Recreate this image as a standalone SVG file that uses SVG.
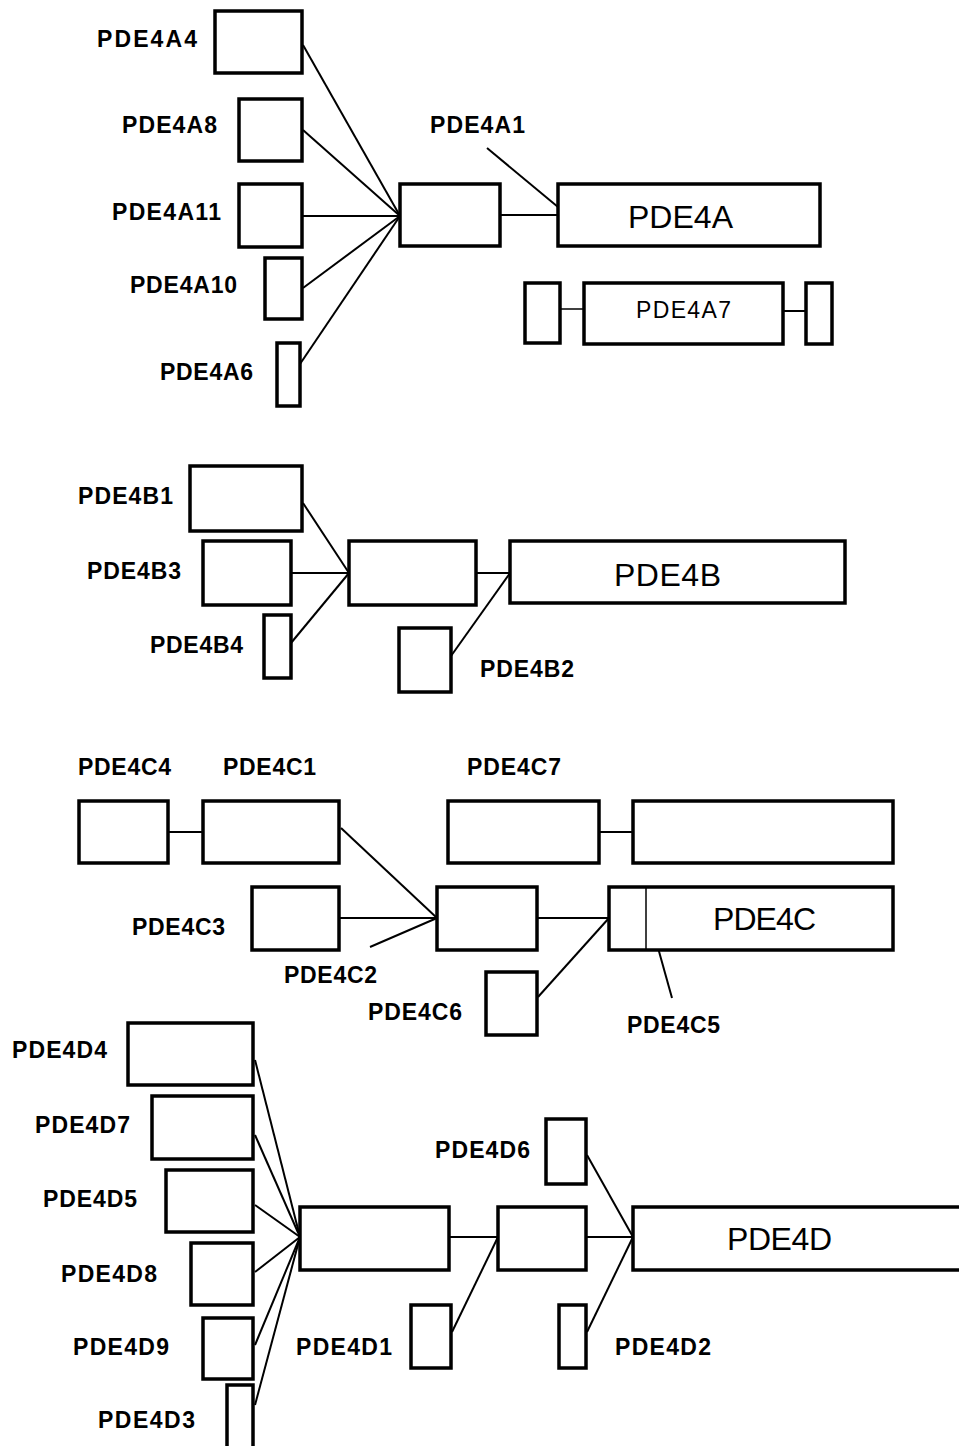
<svg xmlns="http://www.w3.org/2000/svg" width="959" height="1446" viewBox="0 0 959 1446">
<style>
rect{fill:#fff;stroke:#000;stroke-width:3.5}
.c line{stroke:#000;stroke-width:2}
.c .thin{stroke-width:1.5}
text{font-family:"Liberation Sans",Arial,sans-serif;fill:#000}
.l{font-size:23px;font-weight:bold}
.b{font-size:32px}
.m{font-size:23px}
</style>
<rect width="959" height="1446" style="fill:#fff;stroke:none"/>
<g class="c" id="connectors">
<line x1="303" y1="45" x2="400" y2="216"/>
<line x1="303" y1="130" x2="400" y2="216"/>
<line x1="302" y1="216" x2="400" y2="216"/>
<line x1="303" y1="288" x2="400" y2="216"/>
<line x1="300" y1="364" x2="400" y2="216"/>
<line x1="500" y1="215" x2="558" y2="215"/>
<line x1="487" y1="148" x2="558" y2="207"/>
<line class="thin" x1="560" y1="309" x2="584" y2="309"/>
<line x1="783" y1="311" x2="806" y2="311"/>
<line x1="303" y1="503" x2="349" y2="573"/>
<line x1="291" y1="573" x2="349" y2="573"/>
<line x1="291" y1="643" x2="349" y2="573"/>
<line x1="476" y1="573" x2="510" y2="573"/>
<line x1="451" y1="656" x2="510" y2="573"/>
<line x1="168" y1="832" x2="203" y2="832"/>
<line x1="599" y1="832" x2="633" y2="832"/>
<line x1="341" y1="828" x2="437" y2="918"/>
<line x1="339" y1="918" x2="437" y2="918"/>
<line x1="370" y1="947" x2="437" y2="918"/>
<line x1="537" y1="918" x2="609" y2="918"/>
<line x1="538" y1="997" x2="609" y2="918"/>
<line x1="648" y1="912" x2="672" y2="998"/>
<line x1="255" y1="1060" x2="300" y2="1237"/>
<line x1="255" y1="1135" x2="300" y2="1237"/>
<line x1="255" y1="1205" x2="300" y2="1237"/>
<line x1="255" y1="1272" x2="300" y2="1237"/>
<line x1="255" y1="1345" x2="300" y2="1237"/>
<line x1="255" y1="1405" x2="300" y2="1237"/>
<line x1="449" y1="1237" x2="498" y2="1237"/>
<line x1="586" y1="1237" x2="633" y2="1237"/>
<line x1="452" y1="1332" x2="498" y2="1237"/>
<line x1="587" y1="1155" x2="633" y2="1237"/>
<line x1="587" y1="1332" x2="633" y2="1237"/>
</g>
<g id="PDE4A4"><rect x="215" y="11" width="87" height="62"/><text class="l" x="97" y="47" textLength="100">PDE4A4</text></g>
<g id="PDE4A8"><rect x="239" y="99" width="63" height="62"/><text class="l" x="122" y="133" textLength="95">PDE4A8</text></g>
<g id="PDE4A11"><rect x="239" y="184" width="63" height="63"/><text class="l" x="112" y="220" textLength="109">PDE4A11</text></g>
<g id="PDE4A10"><rect x="265" y="258" width="37" height="61"/><text class="l" x="130" y="293" textLength="107">PDE4A10</text></g>
<g id="PDE4A6"><rect x="277" y="343" width="23" height="63"/><text class="l" x="160" y="380" textLength="93">PDE4A6</text></g>
<g id="A-junction"><rect x="400" y="184" width="100" height="62"/></g>
<g id="PDE4A"><rect x="558" y="184" width="262" height="62"/><text class="b" x="628" y="228" textLength="105">PDE4A</text></g>
<g id="PDE4A1"><text class="l" x="430" y="133" textLength="95">PDE4A1</text></g>
<g id="PDE4A7-left"><rect x="525" y="283" width="35" height="60"/></g>
<g id="PDE4A7"><rect x="584" y="283" width="199" height="61"/><text class="m" x="636" y="318" textLength="95">PDE4A7</text></g>
<g id="PDE4A7-right"><rect x="806" y="283" width="26" height="61"/></g>
<g id="PDE4B1"><rect x="190" y="466" width="112" height="65"/><text class="l" x="78" y="504" textLength="95">PDE4B1</text></g>
<g id="PDE4B3"><rect x="203" y="541" width="88" height="64"/><text class="l" x="87" y="579" textLength="94">PDE4B3</text></g>
<g id="PDE4B4"><rect x="264" y="615" width="27" height="63"/><text class="l" x="150" y="653" textLength="93">PDE4B4</text></g>
<g id="B-junction"><rect x="349" y="541" width="127" height="64"/></g>
<g id="PDE4B"><rect x="510" y="541" width="335" height="62"/><text class="b" x="614" y="586" textLength="107">PDE4B</text></g>
<g id="PDE4B2"><rect x="399" y="628" width="52" height="64"/><text class="l" x="480" y="677" textLength="94">PDE4B2</text></g>
<g id="PDE4C4"><rect x="79" y="801" width="89" height="62"/><text class="l" x="78" y="775" textLength="93">PDE4C4</text></g>
<g id="PDE4C1"><rect x="203" y="801" width="136" height="62"/><text class="l" x="223" y="775" textLength="93">PDE4C1</text></g>
<g id="PDE4C7"><rect x="448" y="801" width="151" height="62"/><text class="l" x="467" y="775" textLength="94">PDE4C7</text></g>
<g id="PDE4C7-right"><rect x="633" y="801" width="260" height="62"/></g>
<g id="PDE4C3"><rect x="252" y="887" width="87" height="63"/><text class="l" x="132" y="935" textLength="93">PDE4C3</text></g>
<g id="C-junction"><rect x="437" y="887" width="100" height="63"/></g>
<g id="PDE4C"><rect x="609" y="887" width="284" height="63"/><line x1="646" y1="887" x2="646" y2="949" style="stroke:#000;stroke-width:1.5"/><text class="b" x="713" y="930" textLength="103">PDE4C</text></g>
<g id="PDE4C2"><text class="l" x="284" y="983" textLength="93">PDE4C2</text></g>
<g id="PDE4C6"><rect x="486" y="972" width="51" height="63"/><text class="l" x="368" y="1020" textLength="94">PDE4C6</text></g>
<g id="PDE4C5"><text class="l" x="627" y="1033" textLength="93">PDE4C5</text></g>
<g id="PDE4D4"><rect x="128" y="1023" width="125" height="62"/><text class="l" x="12" y="1058" textLength="95">PDE4D4</text></g>
<g id="PDE4D7"><rect x="152" y="1096" width="101" height="63"/><text class="l" x="35" y="1133" textLength="95">PDE4D7</text></g>
<g id="PDE4D5"><rect x="166" y="1170" width="87" height="62"/><text class="l" x="43" y="1207" textLength="94">PDE4D5</text></g>
<g id="PDE4D8"><rect x="191" y="1243" width="62" height="62"/><text class="l" x="61" y="1282" textLength="96">PDE4D8</text></g>
<g id="PDE4D9"><rect x="203" y="1318" width="50" height="61"/><text class="l" x="73" y="1355" textLength="96">PDE4D9</text></g>
<g id="PDE4D3"><rect x="227" y="1385" width="26" height="80"/><text class="l" x="98" y="1428" textLength="97">PDE4D3</text></g>
<g id="D-junction1"><rect x="300" y="1207" width="149" height="63"/></g>
<g id="D-junction2"><rect x="498" y="1207" width="88" height="63"/></g>
<g id="PDE4D"><rect x="633" y="1207" width="340" height="63"/><text class="b" x="727" y="1250" textLength="105">PDE4D</text></g>
<g id="PDE4D6"><rect x="546" y="1119" width="40" height="65"/><text class="l" x="435" y="1158" textLength="95">PDE4D6</text></g>
<g id="PDE4D1"><rect x="411" y="1305" width="40" height="63"/><text class="l" x="296" y="1355" textLength="96">PDE4D1</text></g>
<g id="PDE4D2"><rect x="559" y="1305" width="27" height="63"/><text class="l" x="615" y="1355" textLength="96">PDE4D2</text></g>
</svg>
